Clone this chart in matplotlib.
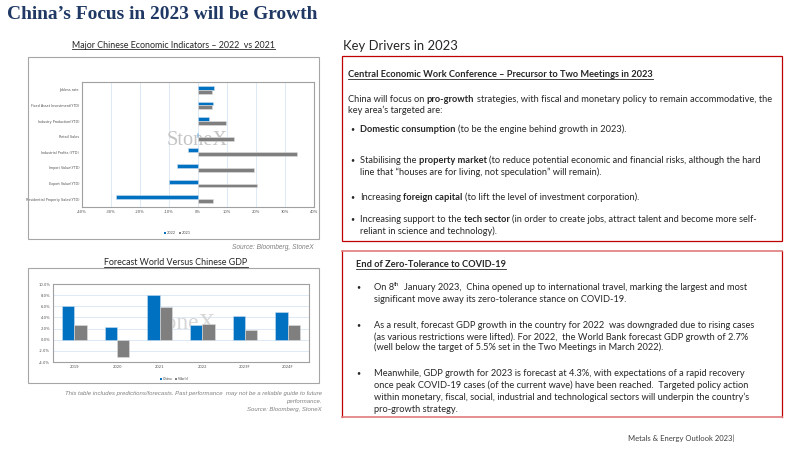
import matplotlib
matplotlib.use('Agg')
import matplotlib.pyplot as plt
import numpy as np
from matplotlib.patches import Rectangle
from matplotlib.lines import Line2D

# ---------------- data ----------------
indicators = ["Jobless rate", "Fixed Asset Investment(YTD)", "Industry Production(YTD)",
              "Retail Sales", "Industrial Profits (YTD)", "Import Value(YTD)",
              "Export Value(YTD)", "Residential Property Sales(YTD)"]
ind_2022 = [5.6, 5.3, 3.8, -0.2, -3.6, -7.4, -10.0, -28.3]
ind_2021 = [4.9, 4.8, 9.5, 12.5, 34.1, 19.3, 20.5, 5.3]
ind_ticks = [-40, -30, -20, -10, 0, 10, 20, 30, 40]
ind_series = ["2022", "2021"]

gdp_years = ["2019", "2020", "2021", "2022", "2023F", "2024F"]
gdp_china = [6.0, 2.2, 8.1, 2.7, 4.3, 5.0]
gdp_world = [2.6, -3.1, 5.9, 2.9, 1.7, 2.6]
gdp_ticks = [-4, -2, 0, 2, 4, 6, 8, 10]
gdp_series = ["China", "World"]

title = "China\u2019s Focus in 2023 will be Growth"
chart1_title = "Major Chinese Economic Indicators \u2013 2022  vs 2021"
chart2_title = "Forecast World Versus Chinese GDP"
drivers_title = "Key Drivers in 2023"

box1_heading = "Central Economic Work Conference \u2013 Precursor to Two Meetings in 2023"
box1_lines = [
    [("China will focus on ", 'n'), ("pro-growth", 'b'), (" strategies, with fiscal and monetary policy to remain accommodative, the", 'n')],
    [("key area\u2019s targeted are:", 'n')],
]
box1_bullets = [
    [[("Domestic consumption", 'b'), (" (to be the engine behind growth in 2023).", 'n')]],
    [[("Stabilising the ", 'n'), ("property market", 'b'), (" (to reduce potential economic and financial risks, although the hard", 'n')],
     [("line that \u201chouses are for living, not speculation\u201d will remain).", 'n')]],
    [[("Increasing ", 'n'), ("foreign capital", 'b'), (" (to lift the level of investment corporation).", 'n')]],
    [[("Increasing support to the ", 'n'), ("tech sector", 'b'), (" (in order to create jobs, attract talent and become more self-", 'n')],
     [("reliant in science and technology).", 'n')]],
]
box2_heading = "End of Zero-Tolerance to COVID-19"
box2_bullets = [
    [[("On 8", 'n'), ("th", 's'), ("  January 2023,  China opened up to international travel, marking the largest and most", 'n')],
     [("significant move away its zero-tolerance stance on COVID-19.", 'n')]],
    [[("As a result, forecast GDP growth in the country for 2022  was downgraded due to rising cases", 'n')],
     [("(as various restrictions were lifted). For 2022,  the World Bank forecast GDP growth of 2.7%", 'n')],
     [("(well below the target of 5.5% set in the Two Meetings in March 2022).", 'n')]],
    [[("Meanwhile, GDP growth for 2023 is forecast at 4.3%, with expectations of a rapid recovery", 'n')],
     [("once peak COVID-19 cases (of the current wave) have been reached.  Targeted policy action", 'n')],
     [("within monetary, fiscal, social, industrial and technological sectors will underpin the country\u2019s", 'n')],
     [("pro-growth strategy.", 'n')]],
]
disclaimer = ["This table includes predictions/forecasts. Past performance  may not be a reliable guide to future",
              "performance.", "Source: Bloomberg, StoneX"]
source1 = "Source: Bloomberg, StoneX"
footer = "Metals & Energy Outlook 2023|"

# ---------------- figure helpers ----------------
W, H = 800, 450
fig = plt.figure(figsize=(8, 4.5), dpi=100)
fig.patch.set_facecolor('white')
renderer = fig.canvas.get_renderer()


def fx(x):
    return x / W


def fy(y):
    return 1 - y / H


def axes_px(l, t, r, b):
    return fig.add_axes([fx(l), fy(b), (r - l) / W, (b - t) / H])


def text_w(s, size, family, weight='normal', style='normal'):
    t = fig.text(0, 0, s, fontsize=size, family=family, weight=weight, style=style)
    w = t.get_window_extent(renderer).width
    t.remove()
    return w


_sp = {}


def space_w(size, family, weight):
    k = (round(size, 3), family, weight)
    if k not in _sp:
        _sp[k] = text_w('a a', size, family, weight) - text_w('aa', size, family, weight)
    return _sp[k]


def draw_runs(x, base, runs, size, family, color, draw=True):
    cx = x
    for s, st in runs:
        weight = 'bold' if st == 'b' else 'normal'
        sz = size * 0.62 if st == 's' else size
        yb = base - (size * 0.42 * 100 / 72 if st == 's' else 0)
        sw = space_w(sz, family, weight)
        lead = len(s) - len(s.lstrip(' '))
        trail = len(s) - len(s.rstrip(' '))
        core = s.strip(' ')
        cx += lead * sw
        if core:
            if draw:
                t = fig.text(fx(cx), fy(yb), core, fontsize=sz, family=family, weight=weight,
                             color=color, va='baseline', ha='left')
                w = t.get_window_extent(renderer).width
            else:
                w = text_w(core, sz, family, weight)
            cx += w
        cx += trail * sw
    return cx


def fit(runs, target, family):
    w = draw_runs(0, 0, runs, 10, family, 'k', draw=False)
    return 10 * target / w


def hline(x0, x1, y, color, lw=0.8):
    fig.add_artist(Line2D([fx(x0), fx(x1)], [fy(y), fy(y)], color=color, lw=lw))


def vline(x, y0, y1, color, lw=0.8):
    fig.add_artist(Line2D([fx(x), fx(x)], [fy(y0), fy(y1)], color=color, lw=lw))


BODY = 'Lato'
TXT = '#262626'
BLUE = '#0070C0'
GREY = '#7F7F7F'
GRID = '#DCE9F5'
TICK = '#505050'

# ---------------- title ----------------
ts = fit([(title, 'b')], 311, 'Liberation Serif')
fig.text(fx(7), fy(19), title, fontsize=ts, family='Liberation Serif', weight='bold',
         color='#1F3864', va='baseline')

# ---------------- chart 1 ----------------
cs = fit([(chart1_title, 'n')], 205, BODY)
w = text_w(chart1_title, cs, BODY)
x0 = 173.5 - w / 2
fig.text(fx(x0), fy(47.5), chart1_title, fontsize=cs, family=BODY, color=TXT, va='baseline')
hline(x0, x0 + w, 49.3, TXT, 0.6)

fig.add_artist(Rectangle((fx(28), fy(239)), 291 / W, 182 / H, transform=fig.transFigure,
                         fill=False, edgecolor='#A6A6A6', lw=0.8))

ax1 = axes_px(82, 82, 314, 207)
ypos = np.arange(len(indicators))
bh = 0.25
ax1.text(0.495, 0.53, "StoneX", transform=ax1.transAxes, fontsize=fit([("StoneX", 'n')], 61, 'Liberation Serif'),
         family='Liberation Serif', color='#C4C4C4', ha='center', va='center', zorder=2)
ax1.barh(ypos - bh / 2, ind_2022, height=bh, color=BLUE, edgecolor='#C9DDF0', lw=0.4, zorder=3)
ax1.barh(ypos + bh / 2, ind_2021, height=bh, color=GREY, edgecolor='#E0E0E0', lw=0.4, zorder=3)
ax1.set_ylim(len(indicators) - 0.5, -0.5)
ax1.set_xlim(-40, 40)
ax1.set_xticks(ind_ticks)
ax1.set_xticklabels([f"{v}%" for v in ind_ticks], fontsize=2.7, color=TICK)
ax1.set_yticks(ypos)
ax1.set_yticklabels(indicators, fontsize=2.4, color=TICK)
ax1.tick_params(length=0, pad=2)
ax1.grid(axis='x', color=GRID, lw=0.7, zorder=0)
ax1.set_axisbelow(True)
for sp in ax1.spines.values():
    sp.set_color('#A0A0A0')
    sp.set_linewidth(0.8)

# legend chart 1
lx = 164
for lab, col in zip(ind_series, [BLUE, GREY]):
    fig.add_artist(Rectangle((fx(lx), fy(234.2)), 2.0 / W, 2.0 / H, transform=fig.transFigure,
                             color=col, lw=0))
    t = fig.text(fx(lx + 2.8), fy(234.5), lab, fontsize=2.8, color=TICK, va='baseline', family=BODY)
    lx += 2.8 + t.get_window_extent(renderer).width + 3

ss = fit([(source1, 'n')], 82, 'Liberation Sans')
fig.text(fx(314), fy(249), source1, fontsize=ss, family='Liberation Sans', style='italic',
         color='#7F7F7F', ha='right', va='baseline')

# ---------------- chart 2 ----------------
cs2 = fit([(chart2_title, 'n')], 144, BODY)
w = text_w(chart2_title, cs2, BODY)
x0 = 176 - w / 2
fig.text(fx(x0), fy(265), chart2_title, fontsize=cs2, family=BODY, color=TXT, va='baseline')
hline(x0, x0 + w, 267, TXT, 0.6)

fig.add_artist(Rectangle((fx(28), fy(383)), 291 / W, 115 / H, transform=fig.transFigure,
                         fill=False, edgecolor='#A6A6A6', lw=0.8))

ax2 = axes_px(53, 284, 309, 362)
xpos = np.arange(len(gdp_years))
bw = 0.29
ax2.text(0.5, 0.49, "StoneX", transform=ax2.transAxes,
         fontsize=fit([("StoneX", 'n')], 70, 'Liberation Serif'),
         family='Liberation Serif', color='#D6D6D6', ha='center', va='center', zorder=2)
ax2.bar(xpos - bw / 2, gdp_china, width=bw, color=BLUE, edgecolor='#C9DDF0', lw=0.4, zorder=3)
ax2.bar(xpos + bw / 2, gdp_world, width=bw, color=GREY, edgecolor='#E0E0E0', lw=0.4, zorder=3)
ax2.set_xlim(-0.5, len(gdp_years) - 0.5)
ax2.set_ylim(-4, 10)
ax2.set_yticks(gdp_ticks)
ax2.set_yticklabels([f"{v:.1f}%" for v in gdp_ticks], fontsize=2.7, color=TICK)
ax2.set_xticks(xpos)
ax2.set_xticklabels(gdp_years, fontsize=2.7, color=TICK)
ax2.tick_params(length=0, pad=2)
ax2.grid(axis='y', color=GRID, lw=0.7, zorder=0)
ax2.set_axisbelow(True)
for sp in ax2.spines.values():
    sp.set_color('#A0A0A0')
    sp.set_linewidth(0.8)

lx = 160
for lab, col in zip(gdp_series, [BLUE, GREY]):
    fig.add_artist(Rectangle((fx(lx), fy(379.6)), 2.0 / W, 2.0 / H, transform=fig.transFigure,
                             color=col, lw=0))
    t = fig.text(fx(lx + 2.8), fy(380), lab, fontsize=2.8, color=TICK, va='baseline', family=BODY)
    lx += 2.8 + t.get_window_extent(renderer).width + 3

ds = fit([(disclaimer[0], 'n')], 259, 'Liberation Sans')
for txt_, yb in zip(disclaimer, [394.5, 403.5, 411.5]):
    fig.text(fx(322), fy(yb), txt_, fontsize=ds, family='Liberation Sans', style='italic',
             color='#7F7F7F', ha='right', va='baseline')

# ---------------- right panel ----------------
kd = fit([(drivers_title, 'n')], 114, BODY)
fig.text(fx(343), fy(49.5), drivers_title, fontsize=kd, family=BODY, color=TXT, va='baseline')

RED = '#C00000'
LRED = '#E07B7B'
# box 1
fig.add_artist(Rectangle((fx(342), fy(241)), 440 / W, 185 / H, transform=fig.transFigure,
                         fill=False, edgecolor=RED, lw=0.9))
# box 2
vline(342, 251, 417, RED, 0.9)
vline(782, 251, 417, RED, 0.9)
hline(342, 782, 251, LRED, 1.2)
hline(342, 782, 417, LRED, 1.2)

s1 = fit(box1_lines[0], 426, BODY)
off = 3.0
xe = draw_runs(348, 74 + off, [(box1_heading, 'b')], s1, BODY, TXT)
hline(348, xe, 74 + off + 1.6, TXT, 0.6)
draw_runs(348, 99 + off, box1_lines[0], s1, BODY, TXT)
draw_runs(348, 110 + off, box1_lines[1], s1, BODY, TXT)
b1_y = [[129], [160, 172], [197], [219, 231]]
for bl, ys in zip(box1_bullets, b1_y):
    fig.text(fx(350), fy(ys[0] + off - 0.5), "\u2022", fontsize=s1 * 0.75, family=BODY, color=TXT,
             va='baseline')
    for ln, yy in zip(bl, ys):
        draw_runs(360, yy + off, ln, s1, BODY, TXT)

s2 = fit(box2_bullets[2][2], 379, BODY)
xe = draw_runs(356, 264 + off, [(box2_heading, 'b')], s2, BODY, TXT)
hline(356, xe, 264 + off + 1.6, TXT, 0.6)
b2_y = [[287, 299], [325, 337, 347], [373, 385, 397, 409]]
for bl, ys in zip(box2_bullets, b2_y):
    fig.text(fx(356), fy(ys[0] + off - 0.5), "\u2022", fontsize=s2 * 0.75, family=BODY, color=TXT,
             va='baseline')
    for ln, yy in zip(bl, ys):
        draw_runs(374, yy + off, ln, s2, BODY, TXT)

fs = fit([(footer, 'n')], 106, BODY)
fig.text(fx(628), fy(441.5), footer, fontsize=fs, family=BODY, color='#404040', va='baseline')

fig.savefig('out.png', dpi=100, facecolor='white')
